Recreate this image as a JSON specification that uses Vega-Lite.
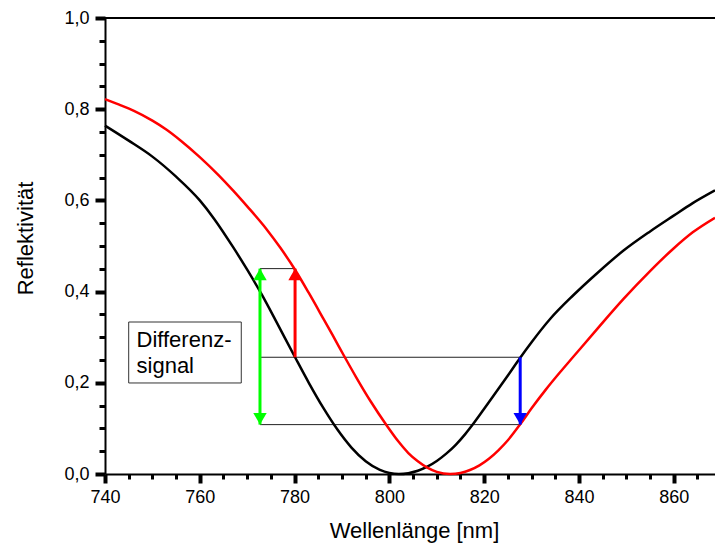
{
  "$schema": "https://vega.github.io/schema/vega-lite/v6.json",
  "width": 610,
  "height": 456,
  "autosize": {"type": "none"},
  "padding": {"left": 105, "top": 18, "right": 0, "bottom": 70},
  "config": {"view": {"stroke": null}},
  "resolve": {"axis": {"x": "independent", "y": "independent"}},
  "datasets": {
    "curves": [
      {"key": "Referenz", "x": 740, "y": 0.764},
      {"key": "Referenz", "x": 745, "y": 0.731},
      {"key": "Referenz", "x": 750, "y": 0.696},
      {"key": "Referenz", "x": 755, "y": 0.652},
      {"key": "Referenz", "x": 760, "y": 0.600},
      {"key": "Referenz", "x": 763, "y": 0.560},
      {"key": "Referenz", "x": 767, "y": 0.498},
      {"key": "Referenz", "x": 770, "y": 0.448},
      {"key": "Referenz", "x": 773, "y": 0.395},
      {"key": "Referenz", "x": 776, "y": 0.337},
      {"key": "Referenz", "x": 780.1, "y": 0.256},
      {"key": "Referenz", "x": 783, "y": 0.200},
      {"key": "Referenz", "x": 786, "y": 0.146},
      {"key": "Referenz", "x": 789, "y": 0.098},
      {"key": "Referenz", "x": 792, "y": 0.058},
      {"key": "Referenz", "x": 795, "y": 0.028},
      {"key": "Referenz", "x": 798, "y": 0.009},
      {"key": "Referenz", "x": 800, "y": 0.0023},
      {"key": "Referenz", "x": 802, "y": 0.0},
      {"key": "Referenz", "x": 804, "y": 0.0018},
      {"key": "Referenz", "x": 806, "y": 0.0071},
      {"key": "Referenz", "x": 808, "y": 0.016},
      {"key": "Referenz", "x": 810, "y": 0.0285},
      {"key": "Referenz", "x": 812, "y": 0.0446},
      {"key": "Referenz", "x": 814, "y": 0.064},
      {"key": "Referenz", "x": 816, "y": 0.0874},
      {"key": "Referenz", "x": 817.7, "y": 0.110},
      {"key": "Referenz", "x": 820, "y": 0.143},
      {"key": "Referenz", "x": 822, "y": 0.172},
      {"key": "Referenz", "x": 825, "y": 0.216},
      {"key": "Referenz", "x": 827.6, "y": 0.255},
      {"key": "Referenz", "x": 830, "y": 0.289},
      {"key": "Referenz", "x": 834, "y": 0.341},
      {"key": "Referenz", "x": 838.8, "y": 0.392},
      {"key": "Referenz", "x": 844, "y": 0.442},
      {"key": "Referenz", "x": 849.4, "y": 0.490},
      {"key": "Referenz", "x": 855, "y": 0.532},
      {"key": "Referenz", "x": 859.9, "y": 0.566},
      {"key": "Referenz", "x": 864, "y": 0.594},
      {"key": "Referenz", "x": 868.7, "y": 0.622},
      {"key": "verschoben", "x": 740, "y": 0.822},
      {"key": "verschoben", "x": 743, "y": 0.810},
      {"key": "verschoben", "x": 746, "y": 0.797},
      {"key": "verschoben", "x": 750, "y": 0.775},
      {"key": "verschoben", "x": 753, "y": 0.755},
      {"key": "verschoben", "x": 756, "y": 0.731},
      {"key": "verschoben", "x": 760, "y": 0.695},
      {"key": "verschoben", "x": 764, "y": 0.655},
      {"key": "verschoben", "x": 767, "y": 0.622},
      {"key": "verschoben", "x": 770, "y": 0.587},
      {"key": "verschoben", "x": 774, "y": 0.538},
      {"key": "verschoben", "x": 777, "y": 0.496},
      {"key": "verschoben", "x": 780.1, "y": 0.448},
      {"key": "verschoben", "x": 783, "y": 0.397},
      {"key": "verschoben", "x": 786, "y": 0.342},
      {"key": "verschoben", "x": 788, "y": 0.305},
      {"key": "verschoben", "x": 790.6, "y": 0.256},
      {"key": "verschoben", "x": 793, "y": 0.212},
      {"key": "verschoben", "x": 796, "y": 0.160},
      {"key": "verschoben", "x": 799.4, "y": 0.107},
      {"key": "verschoben", "x": 802, "y": 0.070},
      {"key": "verschoben", "x": 804, "y": 0.046},
      {"key": "verschoben", "x": 806, "y": 0.028},
      {"key": "verschoben", "x": 808, "y": 0.014},
      {"key": "verschoben", "x": 810, "y": 0.0047},
      {"key": "verschoben", "x": 812.8, "y": 0.0},
      {"key": "verschoben", "x": 815, "y": 0.0024},
      {"key": "verschoben", "x": 817, "y": 0.0088},
      {"key": "verschoben", "x": 819, "y": 0.019},
      {"key": "verschoben", "x": 821, "y": 0.0335},
      {"key": "verschoben", "x": 823, "y": 0.052},
      {"key": "verschoben", "x": 825, "y": 0.074},
      {"key": "verschoben", "x": 827.6, "y": 0.109},
      {"key": "verschoben", "x": 830, "y": 0.144},
      {"key": "verschoben", "x": 833, "y": 0.185},
      {"key": "verschoben", "x": 836, "y": 0.223},
      {"key": "verschoben", "x": 838.8, "y": 0.257},
      {"key": "verschoben", "x": 844, "y": 0.320},
      {"key": "verschoben", "x": 849.4, "y": 0.384},
      {"key": "verschoben", "x": 855, "y": 0.445},
      {"key": "verschoben", "x": 859.9, "y": 0.494},
      {"key": "verschoben", "x": 864, "y": 0.530},
      {"key": "verschoben", "x": 868.7, "y": 0.562}
    ],
    "guides": [
      {"x": 772.7, "x2": 780.0, "y": 0.4504},
      {"x": 772.7, "x2": 827.6, "y": 0.256},
      {"x": 772.7, "x2": 827.6, "y": 0.1083}
    ],
    "shafts": [
      {"key": "Differenz", "x": 772.7, "y": 0.1083, "y2": 0.4504},
      {"key": "Anstieg", "x": 780.1, "y": 0.256, "y2": 0.4504},
      {"key": "Abfall", "x": 827.6, "y": 0.256, "y2": 0.1083}
    ],
    "heads": [
      {"key": "Differenz", "x": 772.7, "y": 0.4504, "dir": "up"},
      {"key": "Differenz", "x": 772.7, "y": 0.1083, "dir": "down"},
      {"key": "Anstieg", "x": 780.1, "y": 0.4504, "dir": "up"},
      {"key": "Abfall", "x": 827.6, "y": 0.1083, "dir": "down"}
    ],
    "box": [
      {"x": 745.0, "x2": 768.75, "y": 0.1996, "y2": 0.3333}
    ],
    "label": [
      {"x": 746.65, "y": 0.2785, "text": "Differenz-"},
      {"x": 746.65, "y": 0.2215, "text": "signal"}
    ]
  },
  "layer": [
    {
      "data": {"values": [{}]},
      "mark": {"type": "rule", "color": "black", "strokeWidth": 2},
      "encoding": {
        "x": {"datum": 740, "type": "quantitative", "scale": {"domain": [740, 868.7], "nice": false, "zero": false}, "axis": null},
        "x2": {"datum": 868.7},
        "y": {"datum": 1, "type": "quantitative", "scale": {"domain": [0, 1], "nice": false}, "axis": null}
      }
    },
    {
      "data": {"name": "guides"},
      "mark": {"type": "rule", "color": "#222222", "strokeWidth": 1},
      "encoding": {
        "x": {
          "field": "x", "type": "quantitative",
          "scale": {"domain": [740, 868.7], "nice": false, "zero": false},
          "axis": {
            "orient": "bottom",
            "grid": false,
            "values": [745, 750, 755, 765, 770, 775, 785, 790, 795, 805, 810, 815, 825, 830, 835, 845, 850, 855, 865],
            "tickColor": "black",
            "tickSize": 5,
            "tickWidth": 3,
            "labels": false,
            "domain": false,
            "title": null
          }
        },
        "x2": {"field": "x2"},
        "y": {
          "field": "y", "type": "quantitative",
          "scale": {"domain": [0, 1], "nice": false},
          "axis": {
            "orient": "left",
            "grid": false,
            "values": [0.05, 0.1, 0.15, 0.25, 0.3, 0.35, 0.45, 0.5, 0.55, 0.65, 0.7, 0.75, 0.85, 0.9, 0.95],
            "tickColor": "black",
            "tickSize": 6,
            "tickWidth": 3,
            "labels": false,
            "domain": false,
            "title": null
          }
        }
      }
    },
    {
      "data": {"name": "curves"},
      "mark": {"type": "line", "strokeWidth": 2.5, "interpolate": "monotone"},
      "encoding": {
        "x": {
          "field": "x", "type": "quantitative",
          "scale": {"domain": [740, 868.7], "nice": false, "zero": false},
          "axis": {
            "orient": "bottom",
            "grid": false,
            "title": "Wellenlänge [nm]",
            "values": [740, 760, 780, 800, 820, 840, 860],
            "domainColor": "black",
            "domainWidth": 2,
            "tickColor": "black",
            "tickSize": 9,
            "tickWidth": 4,
            "labelColor": "black",
            "labelFont": "Liberation Sans",
            "labelFontSize": 18,
            "labelPadding": 5,
            "labelOverlap": false,
            "labelFlush": false,
            "titleColor": "black",
            "titleFont": "Liberation Sans",
            "titleFontSize": 22,
            "titleFontWeight": "normal",
            "titleX": 309,
            "titleY": 63,
            "titleAlign": "center",
            "titleBaseline": "alphabetic"
          }
        },
        "y": {
          "field": "y", "type": "quantitative",
          "scale": {"domain": [0, 1], "nice": false},
          "axis": {
            "orient": "left",
            "grid": false,
            "title": "Reflektivität",
            "values": [0, 0.2, 0.4, 0.6, 0.8, 1],
            "labelExpr": "replace(format(datum.value, '.1f'), '.', ',')",
            "domainColor": "black",
            "domainWidth": 2,
            "tickColor": "black",
            "tickSize": 10,
            "tickWidth": 4,
            "labelColor": "black",
            "labelFont": "Liberation Sans",
            "labelFontSize": 18,
            "labelPadding": 6,
            "labelOverlap": false,
            "labelFlush": false,
            "titleColor": "black",
            "titleFont": "Liberation Sans",
            "titleFontSize": 22,
            "titleFontWeight": "normal",
            "titleX": -72.7,
            "titleY": 220,
            "titleAngle": -90,
            "titleAlign": "center",
            "titleBaseline": "alphabetic"
          }
        },
        "color": {
          "field": "key",
          "type": "nominal",
          "scale": {"domain": ["Referenz", "verschoben", "Differenz", "Anstieg", "Abfall"], "range": ["#000000", "#ff0000", "#00ff00", "#ff0000", "#0000ff"]},
          "legend": null
        },
        "order": {"field": "x", "type": "quantitative"}
      }
    },
    {
      "data": {"name": "shafts"},
      "mark": {"type": "rule", "strokeWidth": 3},
      "encoding": {
        "x": {"field": "x", "type": "quantitative", "scale": {"domain": [740, 868.7], "nice": false, "zero": false}, "axis": null},
        "y": {"field": "y", "type": "quantitative", "scale": {"domain": [0, 1], "nice": false}, "axis": null},
        "y2": {"field": "y2"},
        "color": {
          "field": "key",
          "type": "nominal",
          "scale": {"domain": ["Referenz", "verschoben", "Differenz", "Anstieg", "Abfall"], "range": ["#000000", "#ff0000", "#00ff00", "#ff0000", "#0000ff"]},
          "legend": null
        }
      }
    },
    {
      "data": {"name": "heads"},
      "transform": [{"filter": "datum.dir === 'up'"}],
      "mark": {"type": "point", "shape": "triangle-up", "filled": true, "opacity": 1, "size": 180, "yOffset": 5.8},
      "encoding": {
        "x": {"field": "x", "type": "quantitative", "scale": {"domain": [740, 868.7], "nice": false, "zero": false}, "axis": null},
        "y": {"field": "y", "type": "quantitative", "scale": {"domain": [0, 1], "nice": false}, "axis": null},
        "color": {
          "field": "key",
          "type": "nominal",
          "scale": {"domain": ["Referenz", "verschoben", "Differenz", "Anstieg", "Abfall"], "range": ["#000000", "#ff0000", "#00ff00", "#ff0000", "#0000ff"]},
          "legend": null
        }
      }
    },
    {
      "data": {"name": "heads"},
      "transform": [{"filter": "datum.dir === 'down'"}],
      "mark": {"type": "point", "shape": "triangle-down", "filled": true, "opacity": 1, "size": 180, "yOffset": -5.8},
      "encoding": {
        "x": {"field": "x", "type": "quantitative", "scale": {"domain": [740, 868.7], "nice": false, "zero": false}, "axis": null},
        "y": {"field": "y", "type": "quantitative", "scale": {"domain": [0, 1], "nice": false}, "axis": null},
        "color": {
          "field": "key",
          "type": "nominal",
          "scale": {"domain": ["Referenz", "verschoben", "Differenz", "Anstieg", "Abfall"], "range": ["#000000", "#ff0000", "#00ff00", "#ff0000", "#0000ff"]},
          "legend": null
        }
      }
    },
    {
      "data": {"name": "box"},
      "mark": {"type": "rect", "fill": "white", "stroke": "#333333", "strokeWidth": 1},
      "encoding": {
        "x": {"field": "x", "type": "quantitative", "scale": {"domain": [740, 868.7], "nice": false, "zero": false}, "axis": null},
        "x2": {"field": "x2"},
        "y": {"field": "y", "type": "quantitative", "scale": {"domain": [0, 1], "nice": false}, "axis": null},
        "y2": {"field": "y2"}
      }
    },
    {
      "data": {"name": "label"},
      "mark": {"type": "text", "align": "left", "baseline": "alphabetic", "fontSize": 22, "font": "Liberation Sans", "color": "black"},
      "encoding": {
        "x": {"field": "x", "type": "quantitative", "scale": {"domain": [740, 868.7], "nice": false, "zero": false}, "axis": null},
        "y": {"field": "y", "type": "quantitative", "scale": {"domain": [0, 1], "nice": false}, "axis": null},
        "text": {"field": "text"}
      }
    }
  ]
}
